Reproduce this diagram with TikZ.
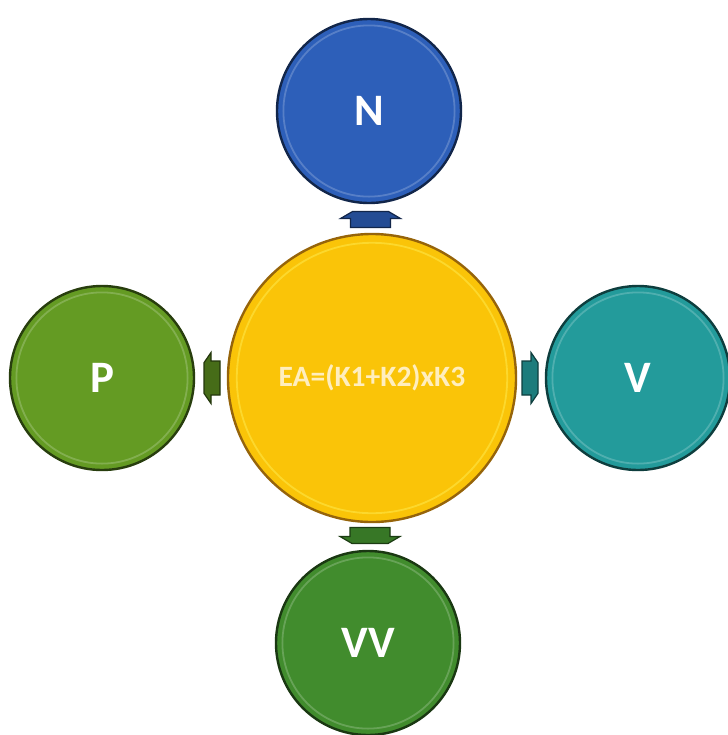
\documentclass[tikz,border=0pt]{standalone}
\usepackage{fontspec}
\setmainfont{Carlito}
\usetikzlibrary{calc}
\definecolor{eayellow}{RGB}{250,196,8}
\definecolor{earim}{RGB}{150,100,10}
\definecolor{eatext}{RGB}{255,238,190}
\definecolor{nblue}{RGB}{45,95,185}
\definecolor{pgreen}{RGB}{100,155,35}
\definecolor{vteal}{RGB}{35,155,155}
\definecolor{vvgreen}{RGB}{65,140,45}

\begin{document}
\begin{tikzpicture}[x=0.25mm, y=-0.25mm,
		disc/.style={circle, line width=0.6mm, inner sep=0pt, text=white,
			font=\bfseries\fontsize{32}{32}\selectfont},
		big/.style={disc, minimum size=72mm, fill=eayellow, draw=earim, text=eatext,
			font=\bfseries\fontsize{21}{21}\selectfont},
		small/.style={disc, minimum size=46mm},
		ring/.style={line width=0.45mm, opacity=0.4},
		flat/.style={line width=0.3mm}]
	
	\useasboundingbox (0,0) rectangle (728,735);
	\clip (0,0) rectangle (728,735);
	\fill[white] (0,0) rectangle (728,735);
	
	%% ── discs ──
	\node[big] (EA) at (372,378) {EA=(K1+K2)xK3};
	\node[small, fill=nblue, draw=nblue!40!black] (N) at (369,111) {N};
	\node[small, fill=pgreen, draw=pgreen!40!black] (P) at (102,378) {P};
	\node[small, fill=vteal, draw=vteal!40!black] (V) at (638,378) {V};
	\node[small, fill=vvgreen, draw=vvgreen!40!black] (VV) at (368,643) {VV};
	
	%% ── inner highlight rings ──
	\draw[ring, yellow!60!white] (EA.center) circle (33.8mm);
	\foreach \n/\c in {N/nblue, P/pgreen, V/vteal, VV/vvgreen}
	\draw[ring, \c!50!white] (\n.center) circle (21.4mm);
	
	%% ── arrows between the discs ──
	\coordinate (aN) at ($(EA.north)!0.5!(N.south)$);
	\coordinate (aP) at ($(EA.west)!0.5!(P.east)$);
	\coordinate (aV) at ($(EA.east)!0.5!(V.west)$);
	\coordinate (aVV) at ($(EA.south)!0.5!(VV.north)$);
	
	\foreach \a/\ang/\s/\c in {aN/0/1/nblue!80!black, aP/90/0.85/pgreen!70!black,
		aV/-90/0.85/vteal!80!black, aVV/180/1/vvgreen!85!black}
	\filldraw[flat, fill=\c, draw=\c!50!black, shift={(\a)}, rotate=\ang, xscale=\s]
	(-20,9) -- (-20,0) -- (-30,0) -- (-18,-7) -- (18,-7) -- (30,0) -- (20,0) -- (20,9) -- cycle;
	
\end{tikzpicture}
\end{document}
